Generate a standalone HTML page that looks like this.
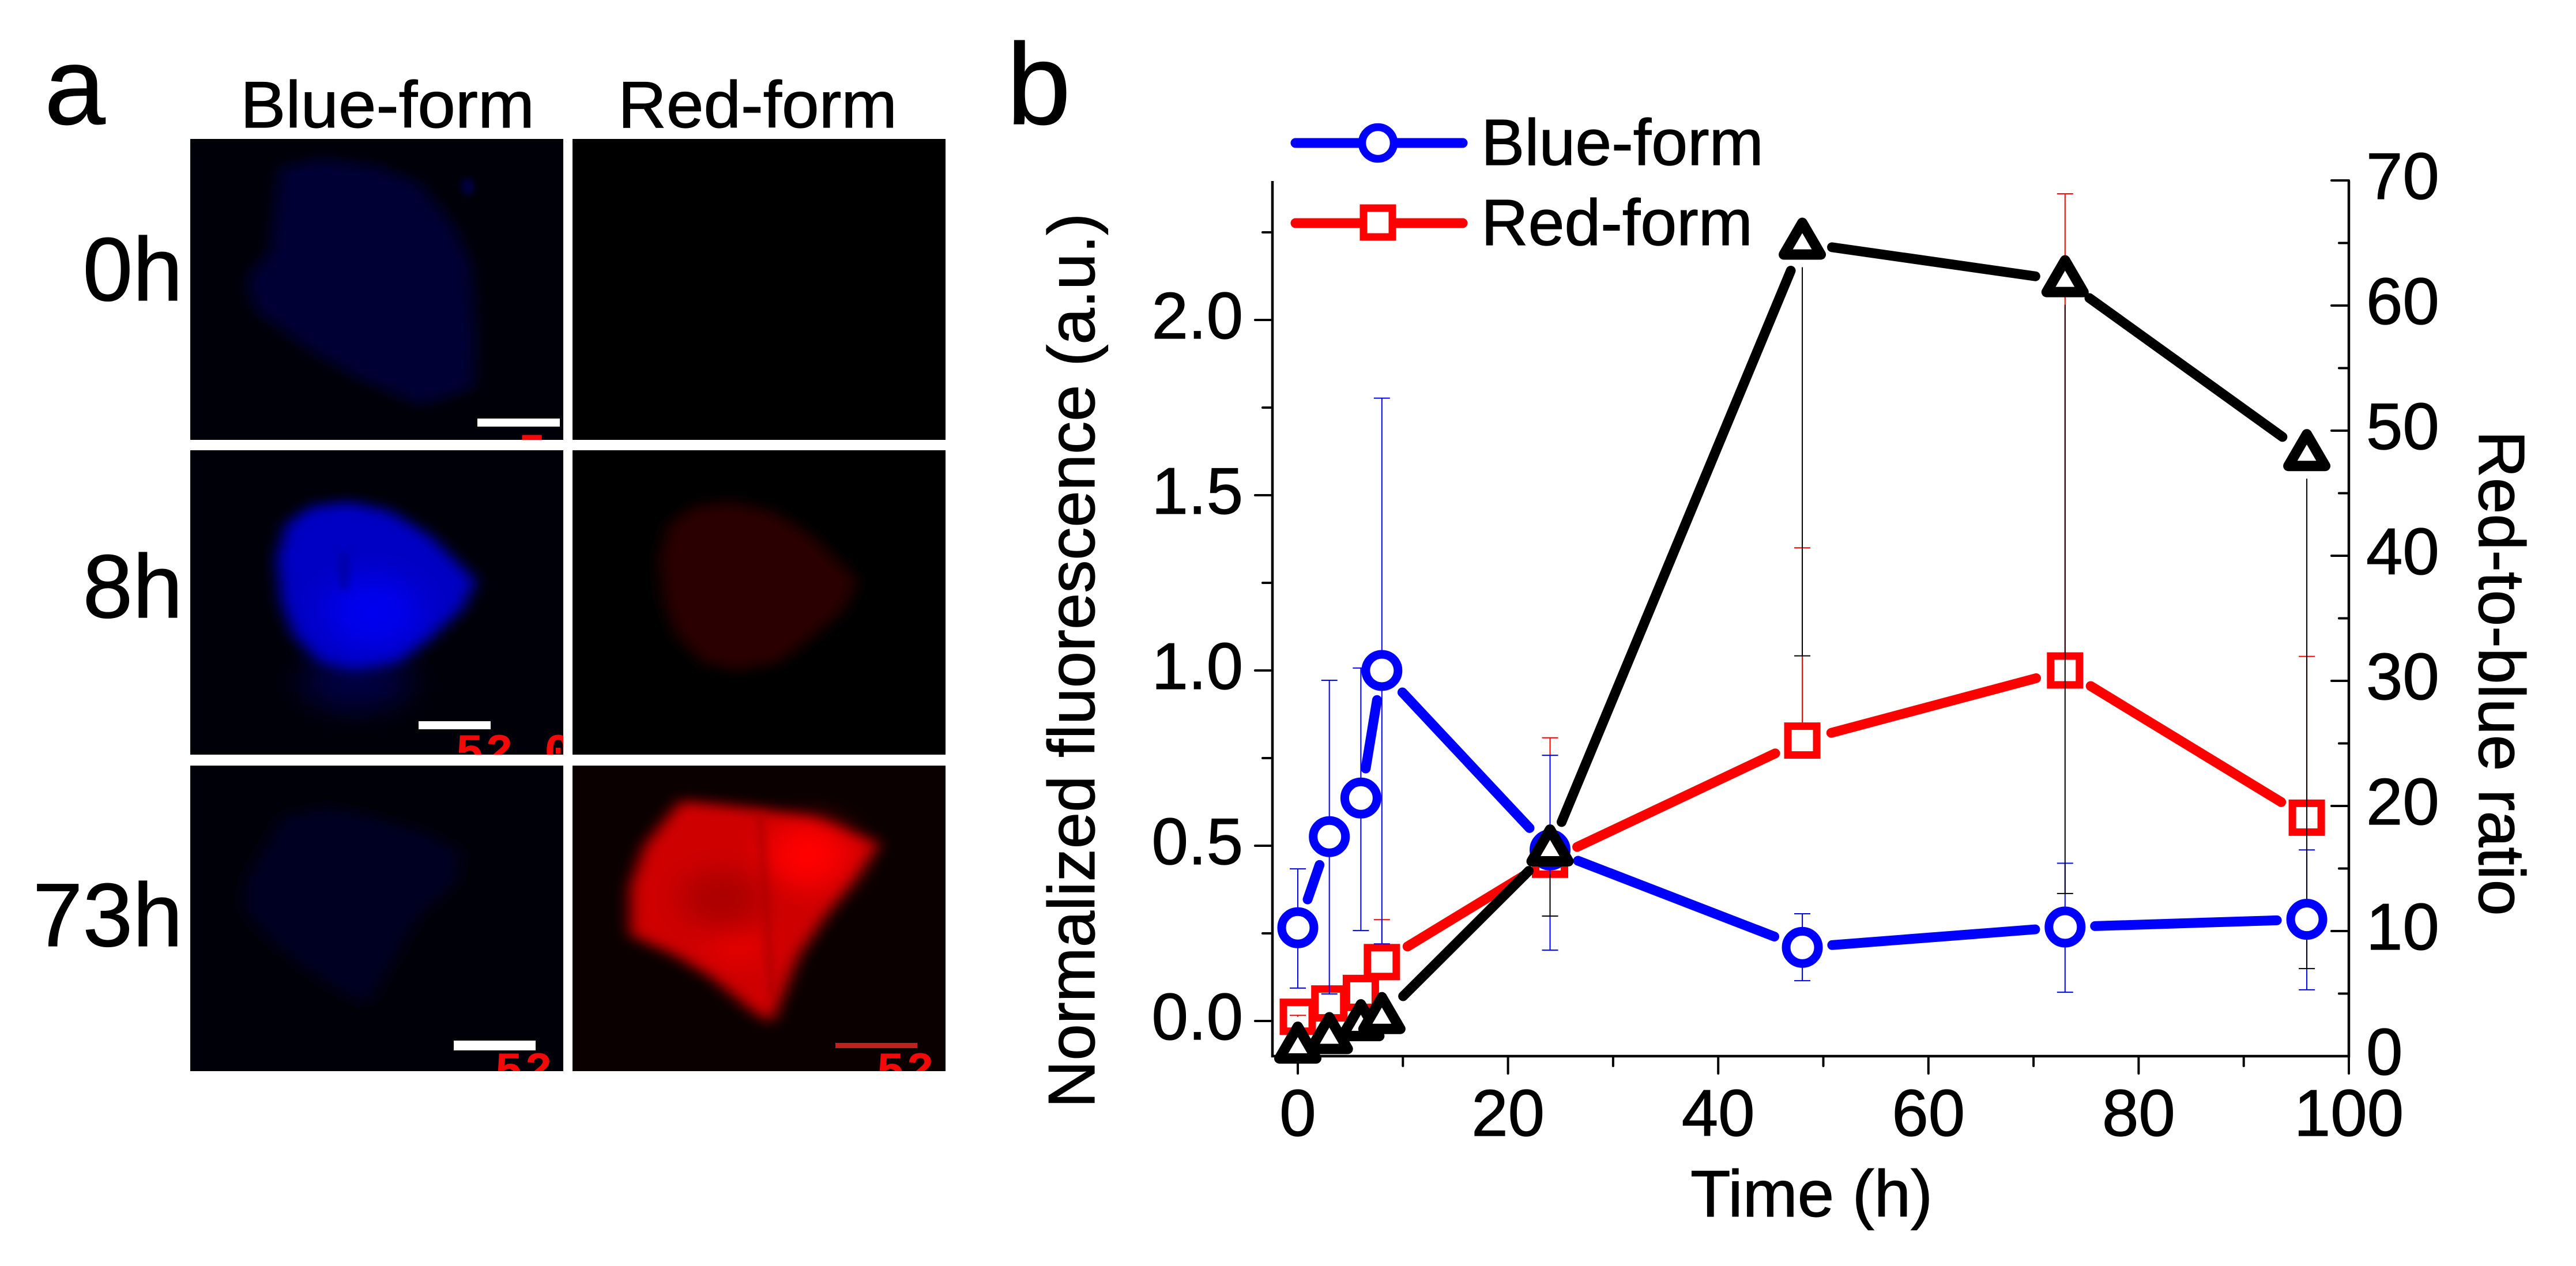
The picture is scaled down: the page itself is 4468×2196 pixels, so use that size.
<!DOCTYPE html>
<html lang="en">
<head>
<meta charset="utf-8">
<title>Fluorescence time course</title>
<style>
html,body{margin:0;padding:0;background:#fff;}
svg{display:block;}
text{font-family:"Liberation Sans",Arial,sans-serif;fill:#000;}
.heavy{stroke:#000;stroke-width:1.2;}
.stamp{fill:#f40808;font-family:"Liberation Mono",monospace;font-weight:bold;font-size:82px;letter-spacing:2px;}
</style>
</head>
<body>
<svg id="figure" xmlns="http://www.w3.org/2000/svg" width="4468" height="2196" viewBox="0 0 4468 2196">
  <defs>
    <filter id="blur-edge" x="-25%" y="-25%" width="150%" height="150%"><feGaussianBlur stdDeviation="34"/></filter>
    <filter id="blur-wide" x="-80%" y="-80%" width="260%" height="260%"><feGaussianBlur stdDeviation="70"/></filter>
    <filter id="blur-fine" x="-200%" y="-20%" width="500%" height="140%"><feGaussianBlur stdDeviation="18"/></filter>
    <clipPath id="clip-p1"><rect x="330" y="241" width="647" height="522"/></clipPath>
    <clipPath id="clip-p2"><rect x="993" y="241" width="647" height="522"/></clipPath>
    <clipPath id="clip-p3"><rect x="330" y="781" width="647" height="528"/></clipPath>
    <clipPath id="clip-p4"><rect x="993" y="781" width="647" height="528"/></clipPath>
    <clipPath id="clip-p5"><rect x="330" y="1328" width="647" height="530"/></clipPath>
    <clipPath id="clip-p6"><rect x="993" y="1328" width="647" height="530"/></clipPath>
  </defs>
  <rect x="0" y="0" width="4468" height="2196" fill="#ffffff"/>

  <g>
    <text class="heavy" x="77" y="215" font-size="190">a</text>
    <text class="heavy" x="417" y="221" font-size="114" textLength="510" lengthAdjust="spacingAndGlyphs">Blue-form</text>
    <text class="heavy" x="1072" y="221" font-size="114" textLength="484" lengthAdjust="spacingAndGlyphs">Red-form</text>
    <text class="heavy" x="317" y="521" font-size="156" text-anchor="end">0h</text>
    <text class="heavy" x="317" y="1071" font-size="156" text-anchor="end">8h</text>
    <text class="heavy" x="317" y="1641" font-size="156" text-anchor="end">73h</text>

    <g clip-path="url(#clip-p1)">
      <rect x="330" y="241" width="647" height="522" fill="#000008"/>
      <g transform="translate(330 241) scale(.4167 .3378)">
        <polygon filter="url(#blur-edge)" fill="#000036" points="370,150 540,100 780,140 960,230 1100,450 1170,650 1190,1050 1180,1280 960,1370 700,1230 500,1090 270,880 240,780 250,690 330,580"/>
        <ellipse cx="1155" cy="245" rx="18" ry="45" fill="#000060" filter="url(#blur-fine)"/>
      </g>
      <rect x="828" y="726" width="143" height="14" fill="#ffffff"/>
      <text class="stamp" x="898" y="808">5</text>
    </g>
    <g clip-path="url(#clip-p2)">
      <rect x="993" y="241" width="647" height="522" fill="#000000"/>
    </g>
    <g clip-path="url(#clip-p3)">
      <rect x="330" y="781" width="647" height="528" fill="#000008"/>
      <g transform="translate(330 781) scale(.4167 .3378)">
        <ellipse cx="690" cy="1190" rx="230" ry="150" fill="#000040" filter="url(#blur-wide)"/>
        <polygon filter="url(#blur-edge)" fill="#0000c4" points="360,560 400,380 500,290 660,265 830,310 1000,440 1190,670 1130,820 1000,960 860,1090 680,1130 540,1090 430,950 380,780"/>
        <ellipse cx="760" cy="830" rx="200" ry="190" fill="#0000ee" filter="url(#blur-wide)"/>
        <ellipse cx="640" cy="620" rx="18" ry="110" fill="#0000a0" filter="url(#blur-fine)"/>
      </g>
      <rect x="726" y="1251" width="125" height="14" fill="#ffffff"/>
      <text class="stamp" x="790" y="1329">52.0</text>
    </g>
    <g clip-path="url(#clip-p4)">
      <rect x="993" y="781" width="647" height="528" fill="#000000"/>
      <g transform="translate(993 781) scale(.4167 .3378)">
        <polygon filter="url(#blur-edge)" fill="#2a0000" points="360,560 400,380 500,290 660,265 830,310 1000,440 1190,670 1130,820 1000,960 860,1090 680,1130 540,1090 430,950 380,780"/>
      </g>
    </g>
    <g clip-path="url(#clip-p5)">
      <rect x="330" y="1328" width="647" height="530" fill="#000008"/>
      <g transform="translate(330 1328) scale(.4167 .3378)">
        <polygon filter="url(#blur-edge)" fill="#000024" points="380,260 580,210 760,260 980,340 1130,440 1110,600 950,780 850,1000 740,1230 600,1150 440,1010 300,860 220,740 230,580"/>
      </g>
      <rect x="787" y="1805" width="142" height="17" fill="#ffffff"/>
      <text class="stamp" x="858" y="1881">52</text>
    </g>
    <g clip-path="url(#clip-p6)">
      <rect x="993" y="1328" width="647" height="530" fill="#0a0000"/>
      <g transform="translate(993 1328) scale(.4167 .3378)">
        <polygon filter="url(#blur-edge)" fill="#cf0000" points="450,180 780,220 1000,270 1280,400 1180,570 1050,780 940,980 830,1320 760,1270 560,1070 420,970 240,870 240,620 300,410"/>
        <ellipse cx="980" cy="460" rx="170" ry="170" fill="#ff0000" filter="url(#blur-wide)"/>
        <ellipse cx="690" cy="930" rx="110" ry="70" fill="#f00000" filter="url(#blur-wide)"/>
        <ellipse cx="620" cy="680" rx="170" ry="150" fill="#ab0000" filter="url(#blur-wide)"/>
        <line x1="780" y1="240" x2="830" y2="1180" stroke="#a80000" stroke-width="20" filter="url(#blur-fine)"/>
      </g>
      <rect x="1449" y="1809" width="142" height="9" fill="#c02020"/>
      <text class="stamp" x="1520" y="1881">52</text>
    </g>
  </g>

  <g>
    <text class="heavy" x="1746" y="215" font-size="200">b</text>
    <g id="chart-layer"></g>

    <text class="heavy" transform="translate(1898 1922) rotate(-90)" font-size="114">Normalized fluorescence (a.u.)</text>
    <text class="heavy" transform="translate(4300 747) rotate(90)" font-size="113">Red-to-blue ratio</text>
    <text class="heavy" x="2932" y="2110" font-size="114">Time (h)</text>

    <g>
      <g>
        <line x1="2247" y1="248" x2="2537" y2="248" stroke="#0000ff" stroke-width="17" stroke-linecap="round"/>
        <circle cx="2390" cy="248" r="27.500" fill="#ffffff" stroke="#0000ff" stroke-width="13.500"/>
        <text class="heavy" x="2569" y="286" font-size="113">Blue-form</text>
      </g>
      <g>
        <line x1="2247" y1="387" x2="2537" y2="387" stroke="#ff0000" stroke-width="17" stroke-linecap="round"/>
        <rect x="2365" y="361" width="50" height="50" fill="#ffffff" stroke="#ff0000" stroke-width="13"/>
        <text class="heavy" x="2569" y="425" font-size="113">Red-form</text>
      </g>
    </g>
  </g>
</svg>

<script>
// ----- chart data -----
const times = [0, 3, 6, 8, 24, 48, 73, 96];
const blueValues = [0.266, 0.526, 0.636, 1.0, 0.488, 0.21, 0.268, 0.29];
const blueErrTop = [0.434, 0.972, 1.007, 1.777, 0.758, 0.306, 0.45, 0.488];
const blueErrBottom = [0.094, 0.077, 0.258, 0.22, 0.202, 0.115, 0.082, 0.089];
const redValues = [0.012, 0.05, 0.08, 0.168, 0.46, 0.8, 1.0, 0.58];
const redErrTop = [0.016, 0.06, 0.09, 0.289, 0.808, 1.35, 2.36, 1.04];
const ratioValues = [0.74, 1.5, 2.53, 3.1, 16.5, 65, 62, 48.1];
const ratioErrBottom = [0.5, -0.37, 0.65, 2.5, 11.2, 32, 13, 7];
const xMajorTicks = ['0', '20', '40', '60', '80', '100'];
const xMinorTicks = [10, 30, 50, 70, 90];
const leftMajorTicks = ['0.0', '0.5', '1.0', '1.5', '2.0'];
const leftMinorTicks = [0.25, 0.75, 1.25, 1.75, 2.25];
const rightMajorTicks = ['0', '10', '20', '30', '40', '50', '60', '70'];
const rightMinorTicks = [5, 15, 25, 35, 45, 55, 65];

// ----- axis functions -----
function xScale(t) { return 2251 + 18.23 * t; }
function yLeft(v) { return 1771 - 608 * v; }
function yRight(r) { return 1832 - 21.7 * r; }

const NS = 'http://www.w3.org/2000/svg';
const chart = document.getElementById('chart-layer');
const LINE_GAP = 52;

function make(tag, attrs, parent) {
  const el = document.createElementNS(NS, tag);
  Object.keys(attrs).forEach(function (k) { el.setAttribute(k, attrs[k]); });
  (parent || chart).appendChild(el);
  return el;
}

function group(name) {
  const g = make('g', {});
  
  
  return g;
}

function drawErrorBar(parent, t, yA, yB, capY, color) {
  const x = xScale(t);
  const bar = make('line', { x1: x, y1: yA, x2: x, y2: yB, stroke: color, 'stroke-width': 2 }, parent);
  
  
  const cap = make('line', { x1: x - 14, y1: capY, x2: x + 14, y2: capY, stroke: color, 'stroke-width': 2 }, parent);
  
  
}

function drawGappedLine(parent, values, yFn, color) {
  for (let i = 0; i < values.length - 1; i++) {
    const x0 = xScale(times[i]), y0 = yFn(values[i]);
    const x1 = xScale(times[i + 1]), y1 = yFn(values[i + 1]);
    const d = Math.hypot(x1 - x0, y1 - y0);
    if (d <= 2 * LINE_GAP) continue;
    const ux = (x1 - x0) / d, uy = (y1 - y0) / d;
    const seg = make('line', {
      x1: x0 + ux * LINE_GAP, y1: y0 + uy * LINE_GAP,
      x2: x1 - ux * LINE_GAP, y2: y1 - uy * LINE_GAP,
      stroke: color, 'stroke-width': 17, 'stroke-linecap': 'round'
    }, parent);
    
    
  }
}

function drawSquare(parent, i) {
  const cx = xScale(times[i]), cy = yLeft(redValues[i]);
  const m = make('rect', { x: cx - 25, y: cy - 25, width: 50, height: 50, fill: '#ffffff', stroke: '#ff0000', 'stroke-width': 13 }, parent);
  
  
}

// ----- axes -----
const axes = group('axes');
function axisLine(name, x1, y1, x2, y2) {
  const l = make('line', { x1: x1, y1: y1, x2: x2, y2: y2, stroke: '#000', 'stroke-width': 4.5 }, axes);
  
  
}
axisLine('left-axis', 2207, 314, 2207, 1834);
axisLine('right-axis', 4074, 314, 4074, 1834);
axisLine('bottom-axis', 2205, 1832, 4076, 1832);

function tick(x1, y1, x2, y2) {
  const l = make('line', { x1: x1, y1: y1, x2: x2, y2: y2, stroke: '#000', 'stroke-width': 4, 'stroke-linecap': 'round' }, axes);
  
  
}
function label(str, x, y, anchor) {
  const t = make('text', { x: x, y: y, 'font-size': 114, 'text-anchor': anchor, class: 'heavy' }, axes);
  
  
  t.textContent = str;
}
xMajorTicks.forEach(function (s) {
  const x = xScale(parseFloat(s));
  tick(x, 1832, x, 1862);
  label(s, x, 1970, 'middle');
});
xMinorTicks.forEach(function (v) { const x = xScale(v); tick(x, 1832, x, 1849); });
leftMajorTicks.forEach(function (s) {
  const y = yLeft(parseFloat(s));
  tick(2177, y, 2207, y);
  label(s, 2156, y + 32, 'end');
});
leftMinorTicks.forEach(function (v) { const y = yLeft(v); tick(2190, y, 2207, y); });
rightMajorTicks.forEach(function (s) {
  const y = yRight(parseFloat(s));
  tick(4044, y, 4074, y);
  label(s, 4104, y + 32, 'start');
});
rightMinorTicks.forEach(function (v) { const y = yRight(v); tick(4057, y, 4074, y); });

// ----- red series (lowest layer) -----
const redSeries = group('series-red-form');
drawSquare(redSeries, 0);
times.forEach(function (t, i) {
  drawErrorBar(redSeries, t, yLeft(redValues[i]), yLeft(redErrTop[i]), yLeft(redErrTop[i]), '#ff0000');
});
drawGappedLine(redSeries, redValues, yLeft, '#ff0000');
times.forEach(function (t, i) { if (i > 0) drawSquare(redSeries, i); });

// ----- error bars of blue and ratio series -----
const blueBars = group('error-bars-blue-form');
times.forEach(function (t, i) {
  drawErrorBar(blueBars, t, yLeft(blueErrTop[i]), yLeft(blueErrTop[i]), yLeft(blueErrTop[i]), '#0000ff');
  drawErrorBar(blueBars, t, yLeft(blueErrTop[i]), yLeft(blueErrBottom[i]), yLeft(blueErrBottom[i]), '#0000ff');
});
const ratioBars = group('error-bars-ratio');
times.forEach(function (t, i) {
  const start = yRight(ratioValues[i]) + 42;
  const end = yRight(ratioErrBottom[i]);
  if (end > start) drawErrorBar(ratioBars, t, start, end, end, '#000000');
});

// ----- blue series -----
const blueSeries = group('series-blue-form');
drawGappedLine(blueSeries, blueValues, yLeft, '#0000ff');
times.forEach(function (t, i) {
  const m = make('circle', { cx: xScale(t), cy: yLeft(blueValues[i]), r: 28, fill: '#ffffff', stroke: '#0000ff', 'stroke-width': 15 }, blueSeries);
  
  
});

// ----- ratio series (top layer) -----
const ratioSeries = group('series-red-to-blue-ratio');
drawGappedLine(ratioSeries, ratioValues, yRight, '#000000');
times.forEach(function (t, i) {
  const cx = xScale(t), cy = yRight(ratioValues[i]);
  const pts = [cx, cy - 35, cx + 32, cy + 20, cx - 32, cy + 20].join(' ');
  const m = make('polygon', { points: pts, fill: '#ffffff', stroke: '#000000', 'stroke-width': 18, 'stroke-linejoin': 'round' }, ratioSeries);
  
  
});
</script>
</body>
</html>
